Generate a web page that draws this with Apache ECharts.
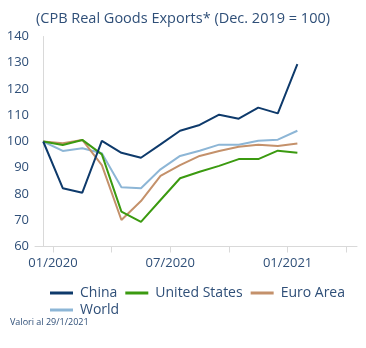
<!DOCTYPE html>
<html><head><meta charset="utf-8">
<script src="https://cdn.jsdelivr.net/npm/echarts@6/dist/echarts.min.js"></script>
<style>html,body{margin:0;padding:0;background:#fff}#c{width:366px;height:348px}</style>
</head><body><div id="c"></div>
<script>
const months = ['2019-12','2020-01','2020-02','2020-03','2020-04','2020-05','2020-06','2020-07','2020-08','2020-09','2020-10','2020-11','2020-12','2021-01'];
const china = [100, 82.2, 80.5, 100.2, 95.7, 93.8, 98.9, 104.1, 106.3, 110.2, 108.7, 112.9, 110.7, 129.5];
const unitedStates = [100, 98.7, 100.6, 95.1, 73.3, 69.4, 77.7, 86.0, 88.5, 90.7, 93.3, 93.3, 96.5, 95.7];
const euroArea = [100, 99.3, 100.6, 91.0, 70.1, 77.3, 86.9, 91.0, 94.5, 96.4, 98.0, 98.8, 98.3, 99.2];
const world = [100, 96.4, 97.4, 95.5, 82.6, 82.2, 89.4, 94.5, 96.5, 98.8, 98.8, 100.3, 100.7, 104.1];
const tickMonths = ['2020-01','2020-04','2020-07','2020-10','2021-01','2021-04'];
const labelMonths = ['2020-01','2020-07','2021-01'];
const tickLabels = ['01/2020','07/2020','01/2021'];

function monthIdx(m){const [y,mo]=m.split('-').map(Number);const [y0,m0]=months[0].split('-').map(Number);return (y-y0)*12+(mo-m0);}
const tickPos = tickMonths.map(m=>monthIdx(m)-0.5);
const labelPos = labelMonths.map(m=>monthIdx(m)-0.5);
const toPairs = arr => arr.map((v,i)=>[monthIdx(months[i]), v]);

const txt = '#2f4f78';
const font = 'Open Sans';
const chart = echarts.init(document.getElementById('c'), null, {renderer:'canvas'});
chart.setOption({
  animation:false,
  textStyle:{fontFamily:font},
  title:{text:'(CPB Real Goods Exports* (Dec. 2019 = 100)', left:'center', top:6,
    textStyle:{fontFamily:font, fontSize:14.5, fontWeight:'normal', color:txt}},
  grid:{left:35, right:9, top:36.5, bottom:101.5, containLabel:false},
  xAxis:{type:'value', min:-0.42, max:16.05,
    axisLine:{show:true, lineStyle:{color:'#d9d9d9', width:1}},
    axisTick:{show:true, customValues:tickPos, length:6, lineStyle:{color:'#d9d9d9'}},
    axisLabel:{customValues:labelPos, color:txt, fontSize:13, margin:10, fontFamily:font,
      formatter:v=>{const i=labelPos.findIndex(p=>Math.abs(p-v)<1e-6);return i>=0?tickLabels[i]:'';}},
    splitLine:{show:false}},
  yAxis:{type:'value', min:60, max:140, interval:10,
    axisLine:{show:true, lineStyle:{color:'#d9d9d9'}},
    axisTick:{show:false},
    axisLabel:{color:txt, fontSize:13, margin:6, fontFamily:font},
    splitLine:{show:false}},
  legend:{left:45, top:284, width:315, itemWidth:23, itemHeight:3, itemGap:3, icon:'rect',
    padding:[2,5,2,5],
    textStyle:{color:txt, fontSize:14, lineHeight:14, fontFamily:font, padding:[0,5,0,2]},
    data:['China','United States','Euro Area','World']},
  graphic:[{type:'text', left:10, top:318, style:{text:'Valori al 29/1/2021', fill:'#2f4f78', font:'9px "Open Sans"'}}],
  series:[
    {name:'World', type:'line', data:toPairs(world), showSymbol:false, lineStyle:{width:2, color:'#8db6d6'}, itemStyle:{color:'#8db6d6'}, z:2},
    {name:'Euro Area', type:'line', data:toPairs(euroArea), showSymbol:false, lineStyle:{width:2, color:'#c4916b'}, itemStyle:{color:'#c4916b'}, z:3},
    {name:'United States', type:'line', data:toPairs(unitedStates), showSymbol:false, lineStyle:{width:2, color:'#3b9a10'}, itemStyle:{color:'#3b9a10'}, z:4},
    {name:'China', type:'line', data:toPairs(china), showSymbol:false, lineStyle:{width:2, color:'#0e3a6b'}, itemStyle:{color:'#0e3a6b'}, z:5}
  ]
});
</script></body></html>
